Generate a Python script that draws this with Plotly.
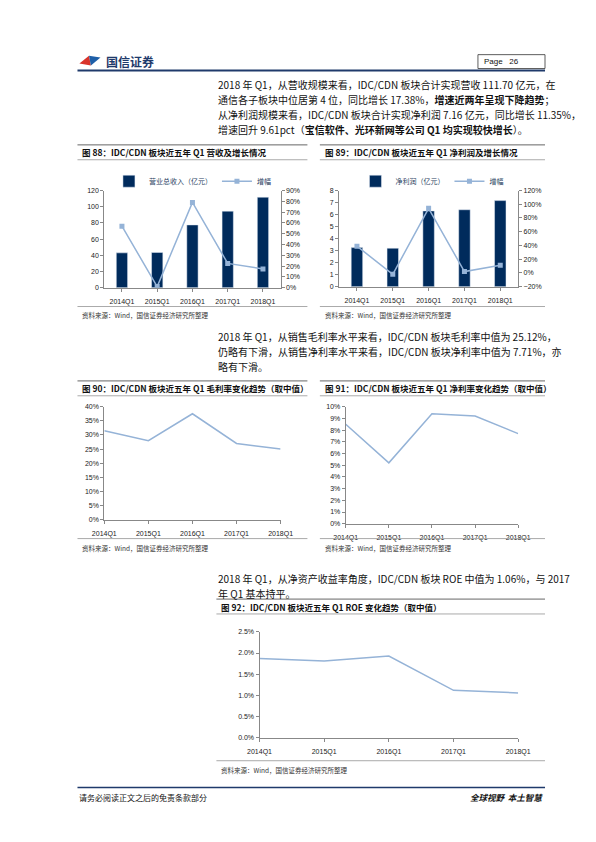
import plotly.graph_objects as go

quarters = ["2014Q1", "2015Q1", "2016Q1", "2017Q1", "2018Q1"]
revenue = [43.0, 43.5, 77.5, 94.5, 111.7]
revenue_growth = [57.0, 1.0, 79.0, 22.5, 17.4]
profit = [3.25, 3.2, 6.3, 6.4, 7.16]
profit_growth = [39.0, -2.0, 94.0, 2.0, 11.35]
gross_margin = [31.5, 28.0, 37.5, 27.0, 25.0]
net_margin = [8.5, 5.2, 9.4, 9.2, 7.7]
roe = [1.87, 1.81, 1.93, 1.12, 1.06]

W, H = 596, 842
NAVY = "#002B5C"
LBLUE = "#95B3D7"
CJK = "Noto Sans CJK SC"


def fx(p):
    return p / W


def fy(p):
    return 1 - p / H


fig = go.Figure()
line_style = dict(color=LBLUE, width=1.5)
marker_style = dict(symbol="square", size=5, color=LBLUE)

# chart 88
fig.add_trace(go.Bar(x=quarters, y=revenue, name="营业总收入（亿元）", marker_color=NAVY, width=0.32,
                     xaxis="x", yaxis="y", legend="legend"))
fig.add_trace(go.Scatter(x=quarters, y=revenue_growth, name="增幅", mode="lines+markers",
                         line=line_style, marker=marker_style, xaxis="x", yaxis="y2", legend="legend"))
# chart 89
fig.add_trace(go.Bar(x=quarters, y=profit, name="净利润（亿元）", marker_color=NAVY, width=0.32,
                     xaxis="x2", yaxis="y3", legend="legend2"))
fig.add_trace(go.Scatter(x=quarters, y=profit_growth, name="增幅", mode="lines+markers",
                         line=line_style, marker=marker_style, xaxis="x2", yaxis="y4", legend="legend2"))
# charts 90-92
for xa, ya, vals in [("x3", "y5", gross_margin), ("x4", "y6", net_margin), ("x5", "y7", roe)]:
    fig.add_trace(go.Scatter(x=quarters, y=vals, mode="lines", line=line_style,
                             xaxis=xa, yaxis=ya, showlegend=False))

tick = dict(size=7, family="Liberation Sans", color="#222")
xbase = dict(showgrid=False, showline=True, linecolor="#888", ticks="outside", ticklen=3,
             tickcolor="#888", tickfont=tick, fixedrange=True, ticklabelstandoff=4)
ybase = dict(showgrid=False, showline=True, linecolor="#888", ticks="outside", ticklen=3,
             tickcolor="#888", tickfont=tick, zeroline=False)

layout = dict(
    width=W, height=H, margin=dict(l=0, r=0, t=0, b=0),
    paper_bgcolor="white", plot_bgcolor="white", bargap=0.5,
    xaxis=dict(xbase, domain=[fx(88), fx(272)], anchor="y"),
    yaxis=dict(ybase, domain=[fy(278), fy(180)], range=[0, 120], dtick=20, anchor="x"),
    yaxis2=dict(ybase, overlaying="y", side="right", anchor="x", range=[0, 90], dtick=10, ticksuffix="%"),
    xaxis2=dict(xbase, domain=[fx(333), fx(520)], anchor="y3"),
    yaxis3=dict(ybase, domain=[fy(277), fy(180)], range=[0, 8], dtick=1, anchor="x2"),
    yaxis4=dict(ybase, overlaying="y3", side="right", anchor="x2", range=[-20, 120], dtick=20, ticksuffix="%"),
    xaxis3=dict(xbase, domain=[fx(88), fx(272)], anchor="y5"),
    yaxis5=dict(ybase, domain=[fy(512), fy(398)], range=[0, 40], dtick=5, ticksuffix="%", anchor="x3"),
    xaxis4=dict(xbase, domain=[fx(340), fx(520)], anchor="y6"),
    yaxis6=dict(ybase, domain=[fy(516), fy(398)], range=[0, 10], dtick=1, ticksuffix="%", anchor="x4"),
    xaxis5=dict(xbase, domain=[fx(250), fx(520)], anchor="y7"),
    yaxis7=dict(ybase, domain=[fy(732), fy(625)], range=[0, 2.5], dtick=0.5, tickformat=".1f",
                ticksuffix="%", anchor="x5"),
    legend=dict(orientation="h", x=fx(180), xanchor="center", y=fy(156), yanchor="top",
                font=dict(size=7, family=CJK), bgcolor="rgba(0,0,0,0)"),
    legend2=dict(orientation="h", x=fx(430), xanchor="center", y=fy(156), yanchor="top",
                 font=dict(size=7, family=CJK), bgcolor="rgba(0,0,0,0)"),
)
fig.update_layout(**layout)

shapes = []
ann = []


def hline(x0, x1, y, color="#999", width=1):
    shapes.append(dict(type="line", xref="paper", yref="paper", x0=fx(x0), x1=fx(x1),
                       y0=fy(y), y1=fy(y), line=dict(color=color, width=width)))


def text(x, y, s, size=10, anchor="left", bold=False, color="#111", family=CJK):
    if bold:
        s = "<b>" + s + "</b>"
    ann.append(dict(xref="paper", yref="paper", x=fx(x), y=fy(y), text=s, showarrow=False,
                    xanchor=anchor, yanchor="middle", font=dict(size=size, family=family, color=color)))


# header
hline(60, 548, 59, color="#1F3A6B", width=2)
shapes.append(dict(type="rect", xref="paper", yref="paper", x0=fx(478), x1=fx(548), y0=fy(57), y1=fy(43),
                   line=dict(color="#333", width=0.8)))
shapes.append(dict(type="path", xref="paper", yref="paper",
                   path=f"M {fx(62)} {fy(52)} L {fx(72)} {fy(44)} L {fx(74)} {fy(54)} Z",
                   fillcolor="#D9342B", line=dict(width=0)))
shapes.append(dict(type="path", xref="paper", yref="paper",
                   path=f"M {fx(72)} {fy(44)} L {fx(84)} {fy(46)} L {fx(74)} {fy(54)} Z",
                   fillcolor="#1F5FA8", line=dict(width=0)))
text(88, 50, "<b>国信证券</b>", size=12, color="#1F3A6B")
text(482, 50, "Page   26", size=8, family="Liberation Sans")

BODY = 10

# paragraph 1
text(205, 73, "2018 年 Q1，从营收规模来看，IDC/CDN 板块合计实现营收 111.70 亿元，在", size=BODY)
text(205, 88, "通信各子板块中位居第 4 位，同比增长 17.38%，<b>增速近两年呈现下降趋势</b>；", size=BODY)
text(205, 103, "从净利润规模来看，IDC/CDN 板块合计实现净利润 7.16 亿元，同比增长 11.35%，", size=BODY)
text(205, 118, "增速回升 9.61pct（<b>宝信软件、光环新网等公司 Q1 均实现较快增长</b>）。", size=BODY)

# chart frames
def frame(x0, x1, ytop, ybot, title):
    hline(x0, x1, ytop, color="#666", width=1)
    hline(x0, x1, ytop + 15, color="#aaa", width=1)
    text(x0 + 3, ytop + 7.5, title, size=8.5, bold=True)
    hline(x0, x1, ybot, color="#aaa", width=1)
    text(x0 + 3, ybot + 9, "资料来源：Wind，国信证券经济研究所整理", size=6.5, color="#333")


frame(60, 300, 134, 297, "图 88：IDC/CDN 板块近五年 Q1 营收及增长情况")
frame(313, 548, 134, 297, "图 89：IDC/CDN 板块近五年 Q1 净利润及增长情况")

text(205, 327, "2018 年 Q1，从销售毛利率水平来看，IDC/CDN 板块毛利率中值为 25.12%，", size=BODY)
text(205, 342, "仍略有下滑，从销售净利率水平来看，IDC/CDN 板块净利率中值为 7.71%，亦", size=BODY)
text(205, 357, "略有下滑。", size=BODY)

frame(60, 300, 372, 531, "图 90：IDC/CDN 板块近五年 Q1 毛利率变化趋势（取中值）")
frame(313, 548, 372, 531, "图 91：IDC/CDN 板块近五年 Q1 净利率变化趋势（取中值）")

text(205, 571, "2018 年 Q1，从净资产收益率角度，IDC/CDN 板块 ROE 中值为 1.06%，与 2017", size=BODY)
text(205, 586, "年 Q1 基本持平。", size=BODY)

frame(205, 548, 592, 755, "图 92：IDC/CDN 板块近五年 Q1 ROE 变化趋势（取中值）")

# footer
hline(60, 548, 782, color="#1F3A6B", width=1.5)
text(60, 792, "请务必阅读正文之后的免责条款部分", size=8)
text(548, 792, "<b><i>全球视野  本土智慧</i></b>", size=8.5, anchor="right")

fig.update_layout(shapes=shapes, annotations=ann)
fig.write_html("out.html")
